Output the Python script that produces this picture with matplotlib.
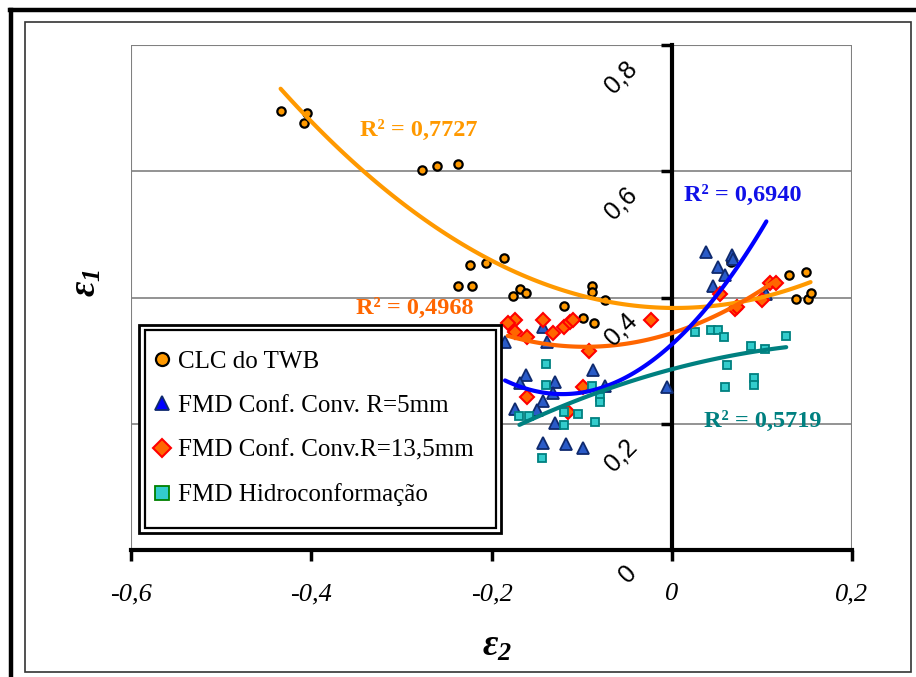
import numpy as np
import matplotlib
matplotlib.use('Agg')
import matplotlib.pyplot as plt
from matplotlib.patches import Rectangle
from matplotlib.lines import Line2D

# === DATA ===
clc_x = [-0.434, -0.405, -0.408, -0.277, -0.261, -0.237, -0.224, -0.206, -0.186,
         -0.237, -0.222, -0.176, -0.168, -0.162, -0.120, -0.088, -0.088, -0.074,
         -0.099, -0.086, 0.066, 0.130, 0.149, 0.138, 0.151, 0.154]
clc_y = [0.695, 0.692, 0.677, 0.602, 0.609, 0.612, 0.451, 0.454, 0.463,
         0.419, 0.419, 0.403, 0.414, 0.407, 0.386, 0.419, 0.409, 0.396,
         0.368, 0.359, 0.456, 0.435, 0.441, 0.398, 0.398, 0.407]

r5_x = [-0.185, -0.143, -0.138, -0.162, -0.168, -0.129, -0.132, -0.143, -0.174,
        -0.150, -0.130, -0.143, -0.117, -0.087, -0.074, -0.005, -0.098, 0.038,
        0.067, 0.068, 0.051, 0.059, 0.046, 0.105]
r5_y = [0.330, 0.354, 0.330, 0.277, 0.265, 0.266, 0.249, 0.236, 0.224,
        0.222, 0.201, 0.170, 0.168, 0.285, 0.260, 0.258, 0.161, 0.472,
        0.468, 0.461, 0.448, 0.436, 0.418, 0.405]

r13_x = [-0.174, -0.182, -0.174, -0.161, -0.143, -0.132, -0.120, -0.113, -0.110,
         -0.092, -0.023, -0.098, -0.115, -0.161, 0.054, 0.070, 0.072, 0.100,
         0.109, 0.116]
r13_y = [0.364, 0.360, 0.346, 0.338, 0.365, 0.344, 0.353, 0.361, 0.364,
         0.315, 0.365, 0.258, 0.219, 0.242, 0.405, 0.381, 0.385, 0.396,
         0.423, 0.423]

hidro_x = [-0.139, -0.139, -0.169, -0.158, -0.120, -0.144, -0.088, -0.080, -0.080,
           -0.104, -0.120, -0.085, 0.026, 0.044, 0.051, 0.058, 0.088, 0.103,
           0.127, 0.061, 0.091, 0.091, 0.059]
hidro_y = [0.295, 0.261, 0.212, 0.212, 0.219, 0.145, 0.260, 0.243, 0.234,
           0.215, 0.198, 0.203, 0.345, 0.348, 0.348, 0.337, 0.323, 0.319,
           0.339, 0.293, 0.272, 0.262, 0.258]

labels = ['CLC do TWB', 'FMD Conf. Conv. R=5mm', 'FMD Conf. Conv.R=13,5mm',
          'FMD Hidroconformação']
r2_texts = ['R² = 0,7727', 'R² = 0,6940', 'R² = 0,4968', 'R² = 0,5719']

x_ticks = [-0.6, -0.4, -0.2, 0, 0.2]
x_ticklabels = ['-0,6', '-0,4', '-0,2', '0', '0,2']
y_ticks = [0, 0.2, 0.4, 0.6, 0.8]
y_ticklabels = ['0', '0,2', '0,4', '0,6', '0,8']

# === STYLE ===
SERIF = 'Liberation Serif'
SANS = 'Liberation Sans'
plt.rcParams['font.family'] = [SERIF, 'DejaVu Serif']
plt.rcParams['mathtext.fontset'] = 'custom'
plt.rcParams['mathtext.it'] = 'Liberation Serif:italic:bold'
plt.rcParams['mathtext.rm'] = 'Liberation Serif:italic:bold'

W, H = 916, 677
fig = plt.figure(figsize=(W / 100, H / 100), dpi=100)

def fx(px):
    return px / W

def fy(py):
    return 1 - py / H

# outer frame
fig.add_artist(Line2D([fx(11), fx(11)], [0, fy(10)], color='black', lw=3.2))
fig.add_artist(Line2D([fx(9.5), 1], [fy(10), fy(10)], color='black', lw=3.2))
fig.add_artist(Rectangle((fx(25), fy(672)), fx(911) - fx(25), fy(22) - fy(672),
                         fill=False, edgecolor='#333333', lw=1.2))

ax = fig.add_axes([fx(131), fy(550), fx(852) - fx(131), fy(45) - fy(550)])
ax.set_xlim(-0.6, 0.2)
ax.set_ylim(0, 0.8)

# plot area border + grid
ax.add_patch(Rectangle((0, 0), 1, 1, transform=ax.transAxes, fill=False,
                       edgecolor='#808080', lw=1.5, zorder=1))
for yv in [0.2, 0.4, 0.6]:
    ax.axhline(yv, color='#808080', lw=1.2, zorder=1)

for s in ['top', 'right']:
    ax.spines[s].set_visible(False)
ax.spines['left'].set_position(('data', 0))
ax.spines['left'].set_linewidth(3)
ax.spines['bottom'].set_linewidth(3)
ax.spines['left'].set_zorder(2)

ax.set_xticks(x_ticks)
ax.set_xticklabels(x_ticklabels, fontstyle='italic', fontsize=19, family=SERIF)
ax.set_yticks(y_ticks[1:])
ax.tick_params(axis='x', direction='out', length=8, width=2.5, pad=16)
ax.tick_params(axis='y', direction='out', length=8, width=2.5, labelleft=False)

# rotated y tick labels
for v, lab in zip(y_ticks, y_ticklabels):
    ax.text(-0.043, v - 0.031, lab, rotation=45, rotation_mode='anchor',
            ha='right', va='center', fontsize=18, family=SANS, zorder=6)

# === SCATTER ===
ax.plot(clc_x, clc_y, 'o', ms=6, mfc='#FF9900', mec='black', mew=1.6, zorder=3,
        label=labels[0])
ax.plot(r5_x, r5_y, '^', ms=8, mfc='#2A5BC8', mec='#0F2A6E', mew=1.3, zorder=3,
        label=labels[1])
ax.plot(r13_x, r13_y, 'D', ms=7.6, mfc='#FF6600', mec='#FF0000', mew=1.5, zorder=3,
        label=labels[2])
ax.plot(hidro_x, hidro_y, 's', ms=6, mfc='#33CCCC', mec='#008080', mew=1.3, zorder=3,
        label=labels[3])

# === TRENDLINES (2nd order polynomial) ===
series = [(clc_x, clc_y, '#FF9900'), (r13_x, r13_y, '#FF6600'),
          (r5_x, r5_y, '#0000FF'), (hidro_x, hidro_y, '#008080')]
for xs, ys, col in series:
    coef = np.polyfit(xs, ys, 2)
    xx = np.linspace(min(xs), max(xs), 100)
    ax.plot(xx, np.polyval(coef, xx), color=col, lw=3, zorder=4,
            solid_capstyle='round')

# R² labels
r2_pos = [(-0.2807, 0.664, '#FF9900'), (0.0788, 0.562, '#1010E8'),
          (-0.2857, 0.382, '#FF6600'), (0.101, 0.204, '#008080')]
for txt, (x, y, col) in zip(r2_texts, r2_pos):
    ax.text(x, y, txt, color=col, fontsize=17.5, fontweight='bold', family=SERIF,
            ha='center', va='center', zorder=6)

# axis labels
fig.text(fx(497), fy(646), r'$ε_{2}$', fontsize=27, ha='center', va='center')
fig.text(fx(86), fy(283), r'$ε_{1}$', fontsize=27, ha='center', va='center',
         rotation=90)

# === LEGEND ===
ax.add_patch(Rectangle((fx(139), fy(533)), fx(501) - fx(139), fy(325) - fy(533),
                       transform=fig.transFigure, facecolor='white', edgecolor='black',
                       lw=2, zorder=7, clip_on=False))
ax.add_patch(Rectangle((fx(145), fy(528)), fx(496) - fx(145), fy(330) - fy(528),
                       transform=fig.transFigure, fill=False, edgecolor='black',
                       lw=1.6, zorder=7, clip_on=False))
leg = ax.legend(loc='upper left', bbox_to_anchor=(fx(152), fy(350)),
                bbox_transform=fig.transFigure, frameon=False, borderaxespad=0,
                borderpad=0, handlelength=0.8, handletextpad=0.25, labelspacing=0.88,
                prop={'family': SERIF, 'size': 18})
leg.set_zorder(8)
for h, ms in zip(leg.legend_handles, [9.4, 10.5, 9.2, 9.5]):
    h.set_markersize(ms)
leg.legend_handles[1].set_markerfacecolor('#0000FF')
leg.legend_handles[3].set_markeredgecolor('#008000')

fig.savefig('out.png', dpi=100)
